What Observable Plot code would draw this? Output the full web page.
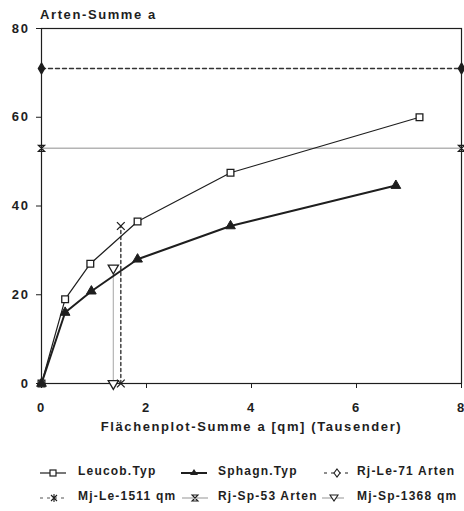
<!DOCTYPE html>
<html>
<head>
<meta charset="utf-8">
<script src="https://cdn.jsdelivr.net/npm/d3@7"></script>
<script src="https://cdn.jsdelivr.net/npm/@observablehq/plot@0.6"></script>
<style>
  html, body { margin: 0; padding: 0; background: #fff; }
  #wrap { position: relative; width: 464px; height: 511px; font-family: "Liberation Sans", Arial, sans-serif; font-weight: bold; color: #1e1e1e; }
  #title { position: absolute; left: 40px; top: 8px; font-size: 13px; line-height: 13px; letter-spacing: 1.6px; white-space: nowrap; }
  #chart { position: absolute; left: 0; top: 20px; }
  .leg { position: absolute; font-size: 12px; line-height: 14px; letter-spacing: 1.2px; white-space: nowrap; }
  .sw { position: absolute; }
</style>
</head>
<body>
<div id="wrap">
  <div id="title"></div>
  <div id="chart"></div>
</div>
<script>
// ---- data ----
const title = "Arten-Summe a";
const xLabel = "Flächenplot-Summe a [qm] (Tausender)";
const xTicks = [0, 2, 4, 6, 8];
const yTicks = [0, 20, 40, 60, 80];
const xDomain = [0, 8];
const yDomain = [0, 80];

const leucobX = [0, 0.45, 0.93, 1.83, 3.6, 7.2];
const leucobY = [0, 19, 27, 36.5, 47.5, 60];
const sphagnX = [0, 0.45, 0.95, 1.83, 3.6, 6.75];
const sphagnY = [0, 16, 20.8, 28, 35.5, 44.6];

const rjLeArten = 71;     // Rj-Le-71 Arten (horizontal)
const rjSpArten = 53;     // Rj-Sp-53 Arten (horizontal)
const mjLeQm = 1.511;     // Mj-Le-1511 qm (vertical, thousands)
const mjSpQm = 1.368;     // Mj-Sp-1368 qm (vertical, thousands)
const mjLeTop = 35.5;
const mjSpTop = 26;

const legendLabels = ["Leucob.Typ", "Sphagn.Typ", "Rj-Le-71 Arten", "Mj-Le-1511 qm", "Rj-Sp-53 Arten", "Mj-Sp-1368 qm"];

// ---- derived tables ----
const leucob = leucobX.map((x, i) => ({x, y: leucobY[i]}));
const sphagn = sphagnX.map((x, i) => ({x, y: sphagnY[i]}));
const rjLe = xDomain.map(x => ({x, y: rjLeArten}));
const rjSp = xDomain.map(x => ({x, y: rjSpArten}));
const mjLe = [0, mjLeTop].map(y => ({x: mjLeQm, y}));
const mjSp = [0, mjSpTop].map(y => ({x: mjSpQm, y}));

const dark = "#1e1e1e";
const grey = "#b4b4b4";

const hourglass = {
  draw(ctx, size) {
    const h = Math.sqrt(size) / 2;
    ctx.moveTo(-h, -h); ctx.lineTo(h, -h); ctx.lineTo(-h, h); ctx.lineTo(h, h); ctx.closePath();
  }
};

document.getElementById("title").textContent = title;

const fontStyle = {fontFamily: '"Liberation Sans", Arial, sans-serif', fontSize: "13px", fontWeight: "bold", color: dark, overflow: "visible", background: "transparent", letterSpacing: "1.6px"};

const plot = Plot.plot({
  width: 464,
  height: 425,
  marginTop: 8,
  marginLeft: 41,
  marginRight: 3,
  marginBottom: 62,
  style: fontStyle,
  x: {domain: xDomain},
  y: {domain: yDomain},
  marks: [
    Plot.axisX({ticks: xTicks, tickSize: 5, tickPadding: 14, label: null, tickFormat: d => d, stroke: dark}),
    Plot.axisY({ticks: yTicks, tickSize: 5, tickPadding: 7, label: null, tickFormat: d => d, stroke: dark}),
    Plot.text([xLabel], {frameAnchor: "bottom", dy: 47, text: d => d, fill: dark}),
    // grey reference lines
    Plot.line(rjSp, {x: "x", y: "y", stroke: grey, strokeWidth: 1.6}),
    Plot.line(mjSp, {x: "x", y: "y", stroke: grey, strokeWidth: 1.2}),
    // dashed reference lines
    Plot.line(rjLe, {x: "x", y: "y", stroke: "#333", strokeWidth: 1.4, strokeDasharray: "4,3"}),
    Plot.line(mjLe, {x: "x", y: "y", stroke: "#333", strokeWidth: 1.4, strokeDasharray: "3,3"}),
    Plot.frame({stroke: dark, strokeWidth: 1.2}),
    // series
    Plot.line(leucob, {x: "x", y: "y", stroke: dark, strokeWidth: 1.2}),
    Plot.line(sphagn, {x: "x", y: "y", stroke: dark, strokeWidth: 2}),
    Plot.dot(leucob, {x: "x", y: "y", symbol: "square", r: 3.8, fill: "white", stroke: dark, strokeWidth: 1.3}),
    Plot.dot(sphagn, {x: "x", y: "y", symbol: "triangle", r: 3.6, fill: dark, stroke: dark, strokeWidth: 1}),
    Plot.dot(rjLe, {x: "x", y: "y", symbol: "diamond", r: 3.2, fill: dark, stroke: dark}),
    Plot.dot(rjSp, {x: "x", y: "y", symbol: hourglass, r: 3.4, fill: "none", stroke: dark, strokeWidth: 1.3}),
    Plot.dot(mjLe, {x: "x", y: "y", symbol: "times", r: 3.6, stroke: dark, strokeWidth: 1.3}),
    Plot.dot(mjSp, {x: "x", y: "y", symbol: "triangle", rotate: 180, r: 3.8, fill: "white", stroke: dark, strokeWidth: 1.3})
  ]
});
document.getElementById("chart").appendChild(plot);

// ---- legend ----
const wrap = document.getElementById("wrap");
const swatchSvgs = [
  `<line x1="0" y1="6" x2="26" y2="6" stroke="${dark}" stroke-width="1.2"/><rect x="10" y="3" width="6" height="6" fill="white" stroke="${dark}" stroke-width="1.2"/>`,
  `<line x1="0" y1="6" x2="26" y2="6" stroke="${dark}" stroke-width="2"/><path d="M13,2 L17,8 L9,8Z" fill="${dark}"/>`,
  `<line x1="0" y1="6" x2="26" y2="6" stroke="${dark}" stroke-width="1.2" stroke-dasharray="3,4"/><path d="M13,2 L16,6 L13,10 L10,6Z" fill="white" stroke="${dark}" stroke-width="1.1"/>`,
  `<line x1="0" y1="6" x2="28" y2="6" stroke="#555" stroke-width="1.1" stroke-dasharray="3,4"/><path d="M11,3 L17,9 M17,3 L11,9 M14,2 L14,10" stroke="${dark}" stroke-width="1.1"/>`,
  `<line x1="0" y1="6" x2="26" y2="6" stroke="${grey}" stroke-width="1.4"/><path d="M10,3 L16,3 L10,9 L16,9Z" fill="none" stroke="${dark}" stroke-width="1.1"/>`,
  `<line x1="0" y1="6" x2="22" y2="6" stroke="${grey}" stroke-width="1.4"/><path d="M8,3 L16,3 L12,9Z" fill="white" stroke="${dark}" stroke-width="1.1"/>`
];
const swLeft = [40, 181, 324, 40, 182, 322];
const txtLeft = [78, 218, 357, 78, 218, 357];
const rowTop = [464, 489];
legendLabels.forEach((lab, i) => {
  const row = Math.floor(i / 3);
  const sw = document.createElement("div");
  sw.className = "sw";
  sw.style.left = swLeft[i] + "px";
  sw.style.top = (rowTop[row] + 1) + "px";
  sw.innerHTML = `<svg width="30" height="12">${swatchSvgs[i]}</svg>`;
  wrap.appendChild(sw);
  const t = document.createElement("div");
  t.className = "leg";
  t.style.left = txtLeft[i] + "px";
  t.style.top = rowTop[row] + "px";
  t.textContent = lab;
  wrap.appendChild(t);
});
</script>
</body>
</html>
